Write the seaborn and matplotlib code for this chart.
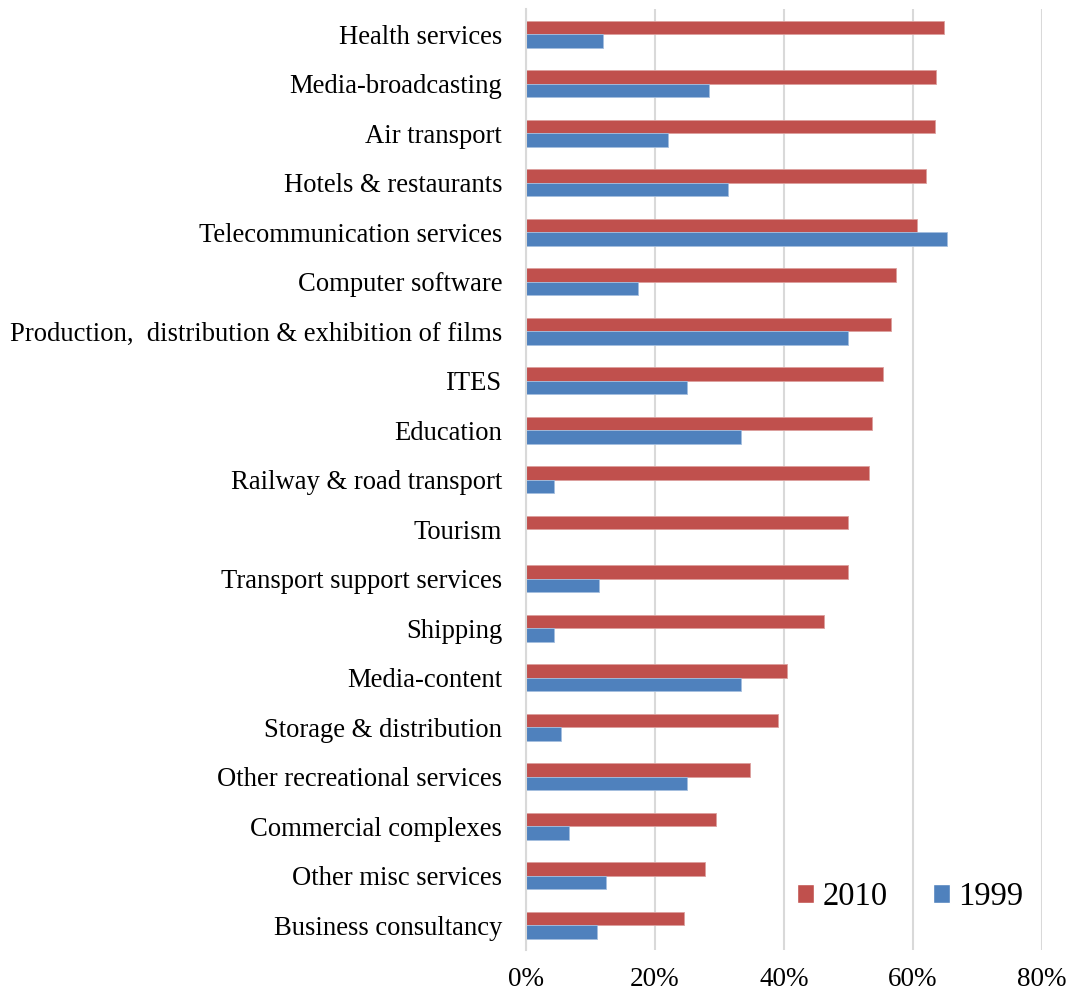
import matplotlib
matplotlib.use("Agg")
import matplotlib.pyplot as plt
from matplotlib.ticker import PercentFormatter
import pandas as pd
import seaborn as sns

# share of sectors (percent)
sectors = [
    "Health services", "Media-broadcasting", "Air transport",
    "Hotels & restaurants", "Telecommunication services",
    "Computer software", "Production,  distribution & exhibition of films",
    "ITES", "Education", "Railway & road transport", "Tourism",
    "Transport support services", "Shipping", "Media-content",
    "Storage & distribution", "Other recreational services",
    "Commercial complexes", "Other misc services", "Business consultancy",
]
values_2010 = [64.8, 63.5, 63.4, 62.0, 60.6, 57.4, 56.6, 55.4, 53.6, 53.1,
               50.0, 50.0, 46.2, 40.5, 39.1, 34.8, 29.5, 27.8, 24.5]
values_1999 = [11.9, 28.4, 22.1, 31.4, 65.2, 17.4, 50.0, 25.0, 33.3, 4.4,
               0.0, 11.4, 4.3, 33.3, 5.5, 25.0, 6.7, 12.4, 11.0]
years = ["2010", "1999"]
colors = ["#C0504D", "#4F81BD"]
edge_colors = ["#DC9F9D", "#A4BEDF"]

df = pd.concat([
    pd.DataFrame({"sector": sectors, "share": values_2010, "year": "2010"}),
    pd.DataFrame({"sector": sectors, "share": values_1999, "year": "1999"}),
])

sns.set_style("white")
plt.rcParams["font.family"] = ["Liberation Serif", "DejaVu Serif"]
plt.rcParams["text.color"] = "black"

fig = plt.figure(figsize=(10.71, 9.98), dpi=100)
ax = fig.add_axes([0.491, 0.048, 0.482, 0.9425])

sns.barplot(data=df, x="share", y="sector", hue="year", hue_order=years,
            palette=colors, orient="h", width=0.55, order=sectors,
            saturation=1, ax=ax)

# light outline on the bars, as in the original
for container, ec in zip(ax.containers, edge_colors):
    for bar in container:
        bar.set_edgecolor(ec)
        bar.set_linewidth(0.6)

ax.set_xlim(0, 80)
ax.set_xticks([0, 20, 40, 60, 80])
ax.xaxis.set_major_formatter(PercentFormatter(decimals=0))
ax.grid(axis="x", color="#D9D9D9", linewidth=1.5)
ax.set_axisbelow(True)
for side in ["top", "right", "bottom"]:
    ax.spines[side].set_visible(False)
ax.spines["left"].set_color("#D9D9D9")
ax.spines["left"].set_linewidth(1.5)
ax.tick_params(axis="both", length=0, labelsize=19.2, labelcolor="black")
ax.tick_params(axis="x", labelsize=19.5, pad=12)
ax.tick_params(axis="y", pad=17)
ax.set_xlabel("")
ax.set_ylabel("")

handles, labels = ax.get_legend_handles_labels()
ax.legend(handles, labels, loc="center", bbox_to_anchor=(0.745, 0.057),
          ncol=2, frameon=False, fontsize=23.5, handlelength=0.52,
          handleheight=0.52, handletextpad=0.25, columnspacing=1.4)

fig.savefig("out.png", dpi=100)
